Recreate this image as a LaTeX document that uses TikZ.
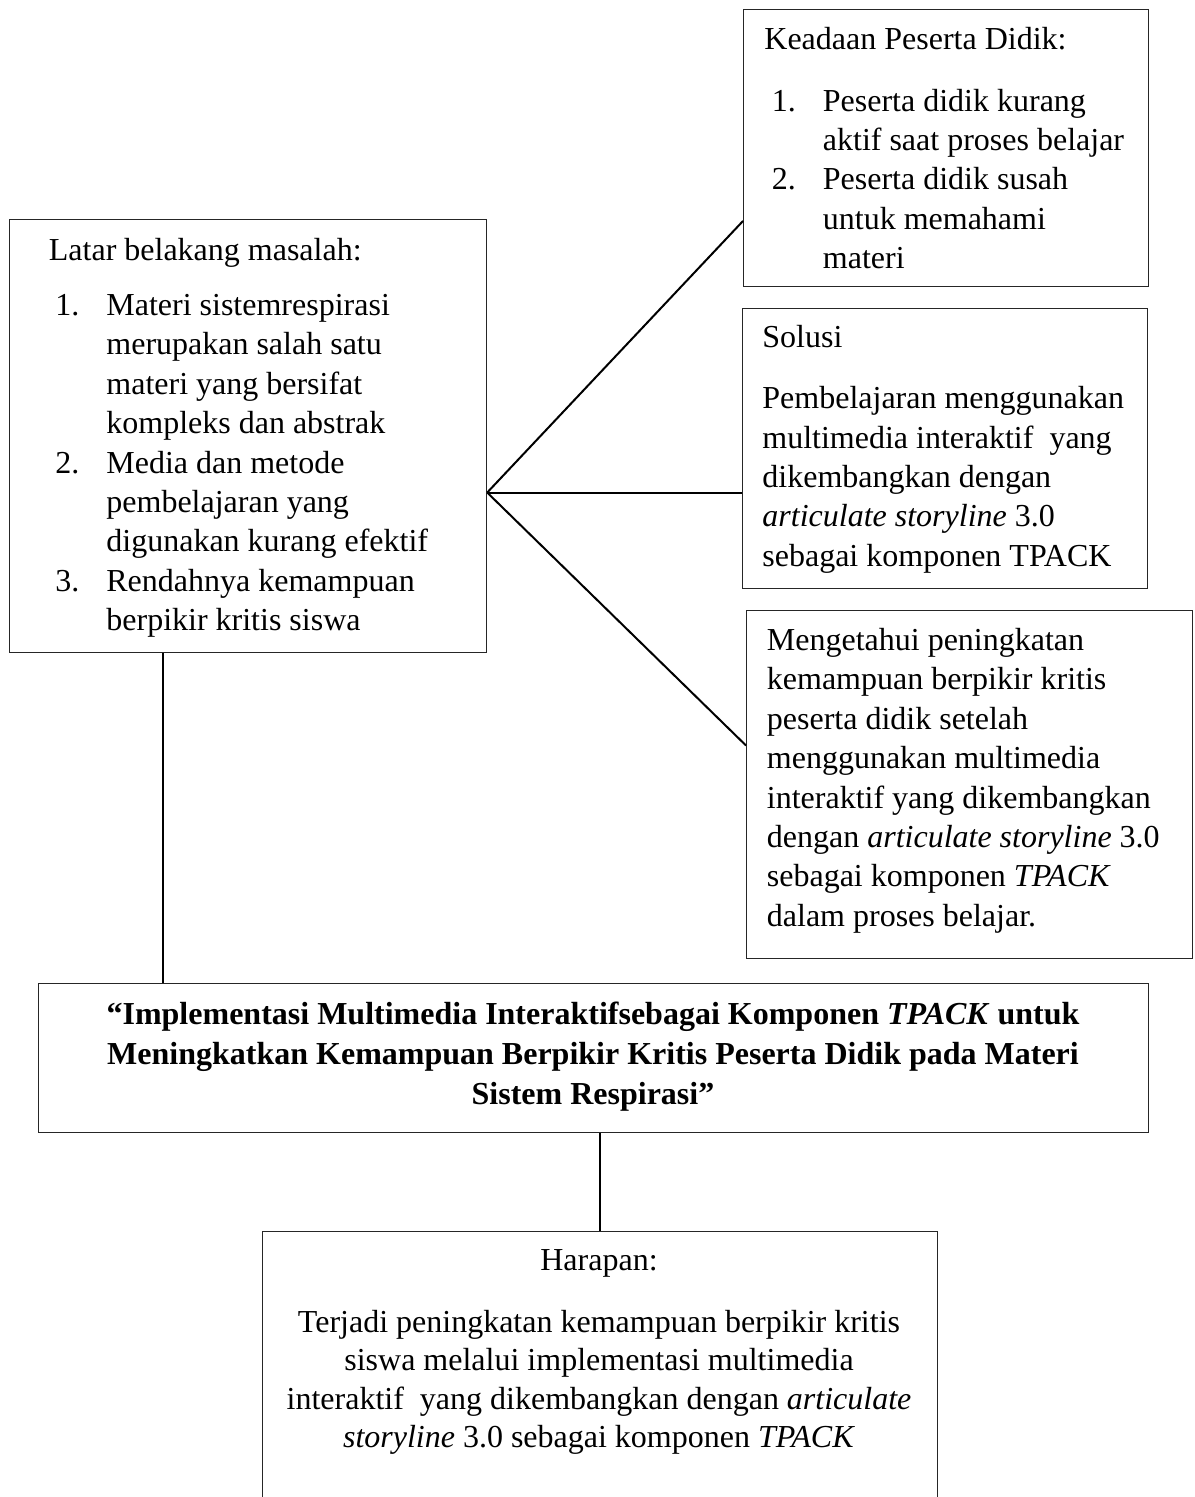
\documentclass[tikz,border=0pt]{standalone}
\usepackage{fontspec}
\setmainfont{Liberation Serif}
\usetikzlibrary{calc}
\newcommand{\mystrut}{\rule{0pt}{12pt}}
\newcommand{\itm}[1]{\makebox[25.5pt][l]{#1}}
\newcommand{\ind}{\hspace*{25.5pt}}
\begin{document}
\begin{tikzpicture}[x=0.5pt,y=-0.5pt,
  box/.style={draw=black!85, line width=0.6pt, inner sep=0pt, anchor=north west},
  txt/.style={inner sep=0pt, anchor=north west, align=left, font=\fontsize{16pt}{19.7pt}\selectfont},
  ctxt/.style={inner sep=0pt, anchor=north, align=center, font=\fontsize{16pt}{19.2pt}\selectfont},
  conn/.style={draw=black, line width=1pt}]
\clip (0,0) rectangle (1194,1497);
% boxes
\node[box, minimum width=202.5pt, minimum height=138.5pt] (kea) at (743,9) {};
\node[box, minimum width=238.5pt, minimum height=216.5pt] (lat) at (9,219) {};
\node[box, minimum width=202.5pt, minimum height=140pt] (sol) at (742,308) {};
\node[box, minimum width=223pt, minimum height=174pt] (men) at (746,610) {};
\node[box, minimum width=555pt, minimum height=74.5pt] (tit) at (38,983) {};
\node[box, minimum width=337.5pt, minimum height=150pt] (har) at (262,1231) {};
% texts
\node[txt] (keah) at (764,25) {\mystrut Keadaan Peserta Didik:};
\node[txt] (keal) at (771.5,86.7) {\mystrut\itm{1.}Peserta didik kurang\\
  \ind aktif saat proses belajar\\
  \itm{2.}Peserta didik susah\\
  \ind untuk memahami\\
  \ind materi};
\node[txt] (lath) at (48.5,236) {\mystrut Latar belakang masalah:};
\node[txt] (latl) at (55,291) {\mystrut\itm{1.}Materi sistemrespirasi\\
  \ind merupakan salah satu\\
  \ind materi yang bersifat\\
  \ind kompleks dan abstrak\\
  \itm{2.}Media dan metode\\
  \ind pembelajaran yang\\
  \ind digunakan kurang efektif\\
  \itm{3.}Rendahnya kemampuan\\
  \ind berpikir kritis siswa};
\node[txt] (solh) at (762,323.3) {\mystrut Solusi};
\node[txt] (solb) at (762,384.3) {\mystrut Pembelajaran menggunakan\\
  multimedia interaktif\ \ yang\\
  dikembangkan dengan\\
  \textit{articulate storyline} 3.0\\
  sebagai komponen TPACK};
\node[txt] (menb) at (766.5,626) {\mystrut Mengetahui peningkatan\\
  kemampuan berpikir kritis\\
  peserta didik setelah\\
  menggunakan multimedia\\
  interaktif yang dikembangkan\\
  dengan \textit{articulate storyline} 3.0\\
  sebagai komponen \textit{TPACK}\\
  dalam proses belajar.};
\node[ctxt, font=\fontsize{16pt}{20pt}\selectfont\bfseries] (titt) at (593,1000) {\mystrut “Implementasi Multimedia Interaktifsebagai Komponen \textit{TPACK} untuk\\
  Meningkatkan Kemampuan Berpikir Kritis Peserta Didik pada Materi\\
  Sistem Respirasi”};
\node[ctxt] (harh) at (599,1246) {\mystrut Harapan:};
\node[ctxt] (harb) at (599,1308) {\mystrut Terjadi peningkatan kemampuan berpikir kritis\\
  siswa melalui implementasi multimedia\\
  interaktif\ \ yang dikembangkan dengan \textit{articulate}\\
  \textit{storyline} 3.0 sebagai komponen \textit{TPACK}};
% connectors
\coordinate (hub) at ($(lat.north east)!0.630!(lat.south east)$);
\coordinate (keain) at ($(kea.north west)!0.762!(kea.south west)$);
\coordinate (menin) at ($(men.north west)!0.388!(men.south west)$);
\coordinate (latb) at ($(lat.south west)!0.321!(lat.south east)$);
\draw[conn] (hub) -- (keain);
\draw[conn] (hub) -- (hub -| sol.west);
\draw[conn] (hub) -- (menin);
\draw[conn] (latb) -- (latb |- tit.north);
\draw[conn] (har.north |- tit.south) -- (har.north);
\end{tikzpicture}
\end{document}
